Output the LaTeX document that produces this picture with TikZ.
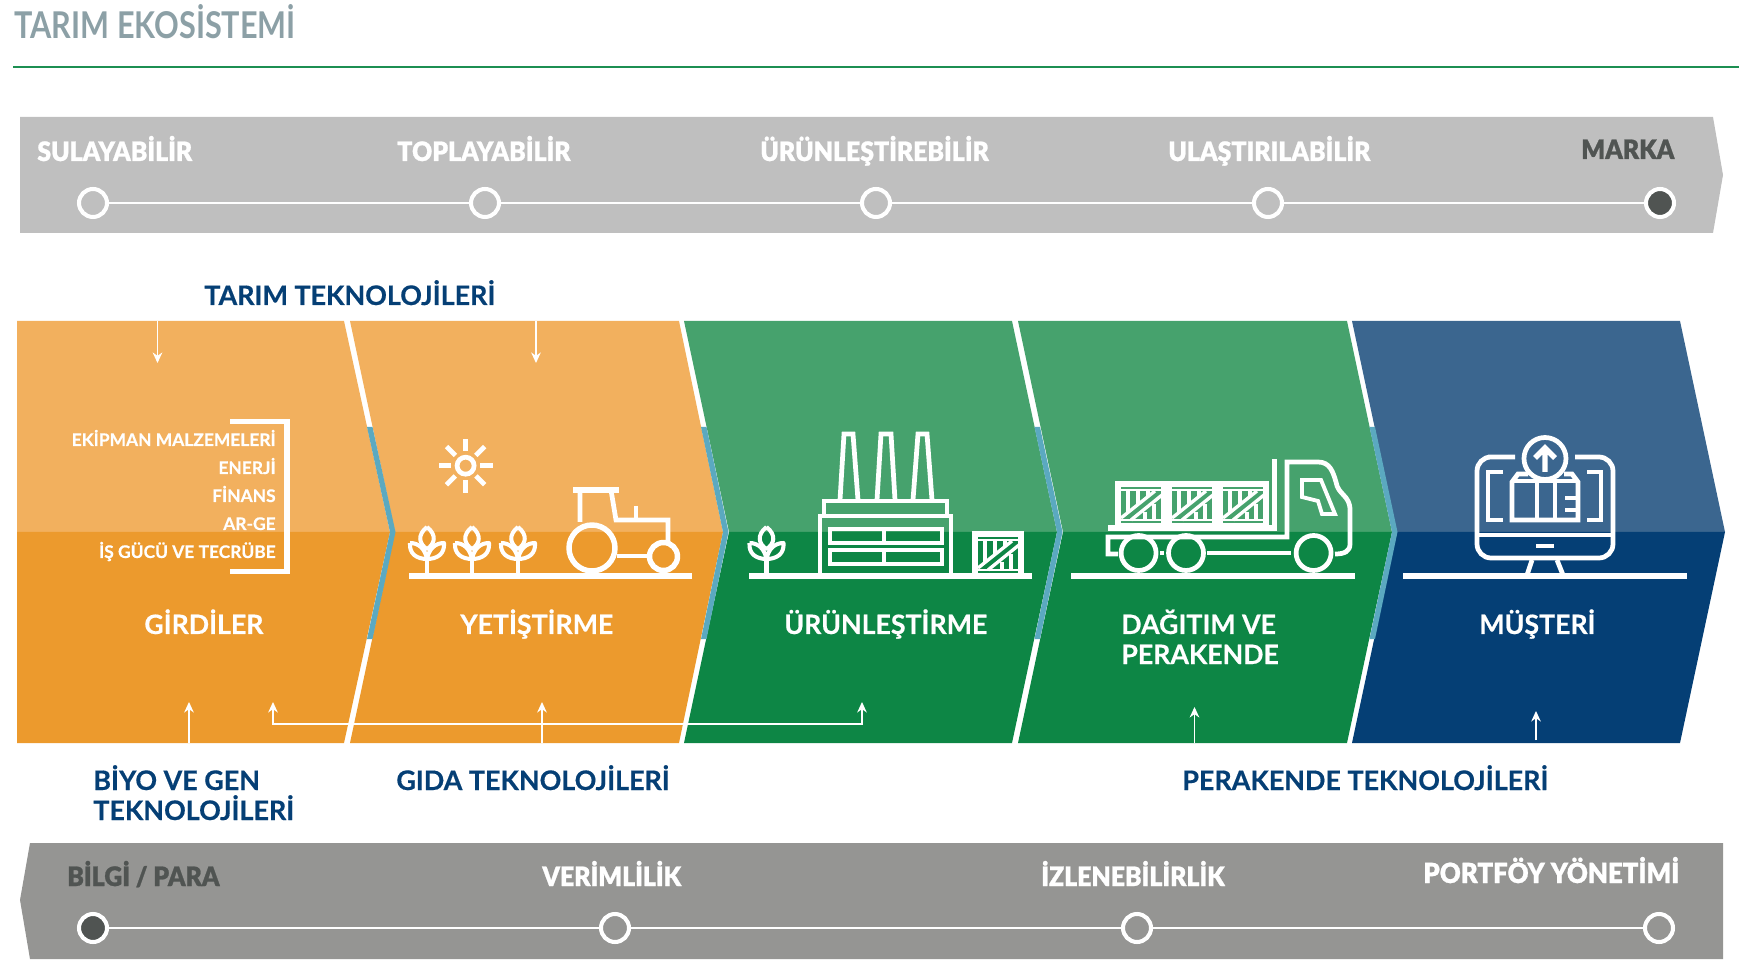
\documentclass[tikz,border=0pt]{standalone}
\usepackage{fontspec}
\setmainfont{Lato}[BoldFont=Lato Bold]
\newfontfamily\latoheavy{Lato Black}[FakeStretch=.93,FakeBold=.9]
\newfontfamily\latostrong{Lato Bold}[FakeBold=.5]
\newfontfamily\latotitle{Lato Bold}[FakeStretch=.83]
\usetikzlibrary{arrows.meta,calc}
\definecolor{bandLight}{HTML}{BFBFBF}
\definecolor{bandDark}{HTML}{959593}
\definecolor{inkDark}{HTML}{505452}
\definecolor{orangeUp}{HTML}{F2B05E}
\definecolor{orangeLow}{HTML}{EC9A2D}
\definecolor{greenUp}{HTML}{46A26D}
\definecolor{greenLow}{HTML}{0D8645}
\definecolor{navyUp}{HTML}{3B668F}
\definecolor{navyLow}{HTML}{053F75}
\definecolor{gapBlue}{HTML}{5BA9C0}
\definecolor{ruleGreen}{HTML}{1C8F52}
\definecolor{titleGrey}{HTML}{8CA0A6}
\tikzset{
  tStep/.style={anchor=base west,inner sep=0pt,text=white,font=\latoheavy\fontsize{15.2}{18}\selectfont},
  tStepDark/.style={tStep,text=inkDark},
  tSect/.style={anchor=base west,inner sep=0pt,text=white,font=\latostrong\fontsize{15.2}{18}\selectfont},
  tTech/.style={anchor=base west,inner sep=0pt,text=navyLow,font=\latostrong\fontsize{15.3}{18}\selectfont},
  tList/.style={anchor=base east,inner sep=0pt,text=white,font=\latostrong\fontsize{9.9}{12}\selectfont},
  kDot/.style={circle,draw=white,line width=2.3pt,minimum size=.56cm,inner sep=0pt},
  kDotDark/.style={kDot,fill=inkDark},
  kLink/.style={white,line width=1.5pt},
  kArrow/.style={white,line width=.6pt,-{Stealth[length=6pt,width=5.5pt]}},
  ico/.style={white,line width=2.7pt,line join=miter},
  icoThick/.style={white,line width=3.1pt,line join=miter},
  icoThin/.style={white,line width=1.9pt},
  plant/.pic={
    \draw[ico,line width=2.3pt,line join=round] (0,-49) .. controls (-10,-41) and (-8,-32) .. (0,-27) .. controls (8,-32) and (10,-41) .. (0,-49);
    \draw[ico,line width=2.3pt,line join=round] (-17,-33) .. controls (-18,-22) and (-10,-17) .. (0,-17) .. controls (10,-17) and (18,-22) .. (17,-33) .. controls (8,-33) and (2,-27) .. (0,-17) .. controls (-2,-27) and (-8,-33) .. (-17,-33);
    \draw[ico] (0,-17) -- (0,0);
  },
  crate/.pic={
    \draw[icoThick] (0,0) rectangle (46,-42);
    \draw[icoThin,line width=1.6pt] (0,-36) -- (46,-36) (0,-6) -- (46,-6);
    \draw[icoThin] (10,-36) -- (10,-13) (20,-36) -- (20,-21) (30,-36) -- (30,-30) (27,-14) -- (27,-6) (36,-22) -- (36,-6);
    \draw[icoThin] (3,-8) -- (37,-35) (13,-6) -- (44,-31);
  },
}
\newcommand{\chevron}[6]{%
  \fill[#1] (#3,321) -- (#4,321) -- (#5,532) -- (#6,532) -- cycle;
  \fill[#2] (#6,532) -- (#5,532) -- (#4,743) -- (#3,743) -- cycle;
}
\newcommand{\gapmark}[2]{%
  \fill[gapBlue] ({#1+.5*(#2-#1)},427) -- ({#1+.5*(#2-#1)+5.5},427) -- (#2+5.5,532) -- ({#1+.5*(#2-#1)+5.5},639) -- ({#1+.5*(#2-#1)},639) -- (#2,532) -- cycle;
}
\begin{document}
\begin{tikzpicture}[x=.02cm,y=-.02cm]
\useasboundingbox (0,0) rectangle (1739,976);
% heading
\node[anchor=base west,inner sep=0pt,text=titleGrey,font=\latotitle\fontsize{21}{24}\selectfont] (title) at (14,39) {TARIM EKOSİSTEMİ};
\coordinate (ruleL) at (13,67);
\coordinate (ruleR) at (1739,67);
\draw[ruleGreen,line width=1.3pt] (ruleL) -- (ruleR);
% top band
\fill[bandLight] (20,117) -- (1713,117) -- (1723,175) -- (1713,233) -- (20,233) -- cycle;
\node[kDot]     (s1) at (93,203)   {};
\node[kDot]     (s2) at (485,203)  {};
\node[kDot]     (s3) at (876,203)  {};
\node[kDot]     (s4) at (1268,203) {};
\node[kDotDark] (s5) at (1660,203) {};
\draw[kLink] (s1) -- (s2);
\draw[kLink] (s2) -- (s3);
\draw[kLink] (s3) -- (s4);
\draw[kLink] (s4) -- (s5);
\node[tStep]     (sl1) at (37,161)   {SULAYABİLİR};
\node[tStep]     (sl2) at (397,161)  {TOPLAYABİLİR};
\node[tStep]     (sl3) at (760,161)  {ÜRÜNLEŞTİREBİLİR};
\node[tStep]     (sl4) at (1168,161) {ULAŞTIRILABİLİR};
\node[tStepDark] (sl5) at (1581,159) {MARKA};
% chevrons
\chevron{orangeUp}{orangeLow}{17}{344}{390}{17}
\chevron{orangeUp}{orangeLow}{350}{679}{723}{395}
\chevron{greenUp}{greenLow}{684}{1012}{1057}{729}
\chevron{greenUp}{greenLow}{1018}{1347}{1392}{1063}
\chevron{navyUp}{navyLow}{1352}{1680}{1725}{1397}
\gapmark{344}{390}
\gapmark{679}{723}
\gapmark{1012}{1057}
\gapmark{1347}{1392}
% list with bracket
\node[tList] (i1) at (276,446) {EKİPMAN MALZEMELERİ};
\node[tList] (i2) at (276,474) {ENERJİ};
\node[tList] (i3) at (276,502) {FİNANS};
\node[tList] (i4) at (276,530) {AR-GE};
\node[tList] (i5) at (276,558) {İŞ GÜCÜ VE TECRÜBE};
\draw[icoThick] (230,421.5) -- (287,421.5) -- (287,571.5) -- (230,571.5);
% sun, plants, tractor
\draw[ico] (465.6,465.7) circle (8.5);
\foreach \a in {0,45,...,315}
  \draw[ico] ($(465.6,465.7)+(\a:14.5)$) -- ($(465.6,465.7)+(\a:27)$);
\draw[icoThick] (409,576) -- (692,576);
\foreach \px in {427,472,518}
  \pic at (\px,576) {plant};
\draw[icoThick] (573,490) -- (619,490);
\draw[ico] (580,490) -- (580,522) (611,490) -- (616,520) -- (668,520) -- (668,543);
\draw[ico] (636,506) -- (636,520) (617,556) -- (649,556);
\draw[icoThick] (592,548) circle (23) (663.5,556.5) circle (14);
% factory
\pic at (766.5,576) {plant};
\draw[icoThick] (749,576) -- (1032,576);
\draw[ico] (820,576) -- (820,516) -- (951,516) -- (951,576);
\draw[ico] (824,514) -- (824,501) -- (947,501) -- (947,514);
\draw[ico] (840,500) -- (844,434) -- (853,434) -- (858,500);
\draw[ico] (877,500) -- (881,434) -- (891,434) -- (895,500);
\draw[ico] (913,500) -- (918,434) -- (927,434) -- (932,500);
\draw[ico] (830,529) rectangle (942,543) (830,550) rectangle (942,564);
\draw[icoThin] (884,529) -- (884,543) (884,550) -- (884,564);
\pic at (975,576) {crate};
% truck
\draw[icoThick] (1071,576) -- (1355,576);
\pic at (1118,526) {crate};
\pic at (1169,526) {crate};
\pic at (1220,526) {crate};
\draw[icoThick] (1108,528) -- (1277,528) (1274.5,459) -- (1274.5,530);
\draw[ico] (1118,554) -- (1108,554) -- (1108,537) -- (1287,537) -- (1287,462) -- (1318,462) .. controls (1330,462) and (1333,472) .. (1336,482) .. controls (1338,495) and (1350,495) .. (1350,510) -- (1350,544) .. controls (1350,551) and (1345,554) .. (1335,554);
\draw[icoThin,line width=2.2pt] (1302,480) -- (1321,480) -- (1335,514) -- (1322,514) -- (1318,501) -- (1302,497) -- cycle;
\draw[ico] (1138.6,553) circle (17.5) (1186,553) circle (17.5) (1313.6,553) circle (17.5);
\draw[ico] (1207,553) -- (1291,553);
\draw[icoThin] (1162,551) -- (1162,555);
% monitor
\draw[icoThick] (1403,576) -- (1687,576) (1516,576) -- (1574,576);
\draw[ico] (1515,457) -- (1488,457) [rounded corners=8pt] -- (1477,457) -- (1477,558) -- (1613,558) -- (1613,457) [sharp corners] -- (1575,457);
\draw[ico] (1477,535) -- (1613,535);
\draw[ico] (1536,546) -- (1554,546);
\draw[ico] (1532,560) -- (1527,575) (1557,560) -- (1563,575);
\draw[ico] (1545,458.5) circle (21);
\draw[icoThick] (1545,472) -- (1545,449) (1535,458) -- (1545,448) -- (1555,458);
\draw[ico] (1503,472) -- (1488,472) -- (1488,520) -- (1503,520);
\draw[ico] (1587,472) -- (1601,472) -- (1601,520) -- (1587,520);
\draw[ico] (1528,474) -- (1518,474) -- (1512,482) -- (1512,520) -- (1578,520) -- (1578,482) -- (1572,474) -- (1564,474);
\draw[ico] (1512,481) -- (1578,481) (1537,481) -- (1537,520) (1555,481) -- (1555,520);
\draw[icoThin] (1565,498) -- (1578,498) (1565,510) -- (1578,510);
% section labels
\node[tSect] (p1) at (144,634)  {GİRDİLER};
\node[tSect] (p2) at (460,634)  {YETİŞTİRME};
\node[tSect] (p3) at (784,634)  {ÜRÜNLEŞTİRME};
\node[tSect] (p4) at (1121,634) {DAĞITIM VE};
\node[tSect] (p4b) at (1121,664) {PERAKENDE};
\node[tSect] (p5) at (1479,634) {MÜŞTERİ};
% technologies
\node[tTech] (t1) at (204,305)  {TARIM TEKNOLOJİLERİ};
\node[tTech] (t2) at (93,790)   {BİYO VE GEN};
\node[tTech] (t2b) at (93,820)  {TEKNOLOJİLERİ};
\node[tTech] (t3) at (396,790)  {GIDA TEKNOLOJİLERİ};
\node[tTech] (t4) at (1182,790) {PERAKENDE TEKNOLOJİLERİ};
% arrows
\coordinate (a1s) at (157.5,321);
\coordinate (a1e) at (157.5,363);
\coordinate (a2s) at (536,321);
\coordinate (a2e) at (536,363);
\coordinate (a3s) at (189,743);
\coordinate (a3e) at (189,702);
\coordinate (a4s) at (542,743);
\coordinate (a4e) at (542,702);
\coordinate (a5s) at (273,702);
\coordinate (a5e) at (862,702);
\coordinate (a6s) at (1194.5,743);
\coordinate (a6e) at (1194.5,707);
\coordinate (a7s) at (1536,740);
\coordinate (a7e) at (1536,711);
\draw[kArrow] (a1s) -- (a1e);
\draw[kArrow] (a2s) -- (a2e);
\draw[kArrow] (a3s) -- (a3e);
\draw[kArrow] (a4s) -- (a4e);
\draw[kArrow,{Stealth[length=6pt,width=5.5pt]}-{Stealth[length=6pt,width=5.5pt]}] (a5s) -- (273,724) -- (862,724) -- (a5e);
\draw[kArrow] (a6s) -- (a6e);
\draw[kArrow] (a7s) -- (a7e);
% bottom band
\fill[bandDark] (30,843) -- (1723,843) -- (1723,959) -- (30,959) -- (20,900) -- cycle;
\node[kDotDark] (b1) at (93,928)   {};
\node[kDot]     (b2) at (615,928)  {};
\node[kDot]     (b3) at (1137,928) {};
\node[kDot]     (b4) at (1659,928) {};
\draw[kLink] (b1) -- (b2);
\draw[kLink] (b2) -- (b3);
\draw[kLink] (b3) -- (b4);
\node[tStepDark] (bl1) at (67,886)   {BİLGİ / PARA};
\node[tStep]     (bl2) at (542,886)  {VERİMLİLİK};
\node[tStep]     (bl3) at (1041,886) {İZLENEBİLİRLİK};
\node[tStep,font=\latoheavy\fontsize{15.8}{18}\selectfont] (bl4) at (1423,883) {PORTFÖY YÖNETİMİ};
\end{tikzpicture}
\end{document}
